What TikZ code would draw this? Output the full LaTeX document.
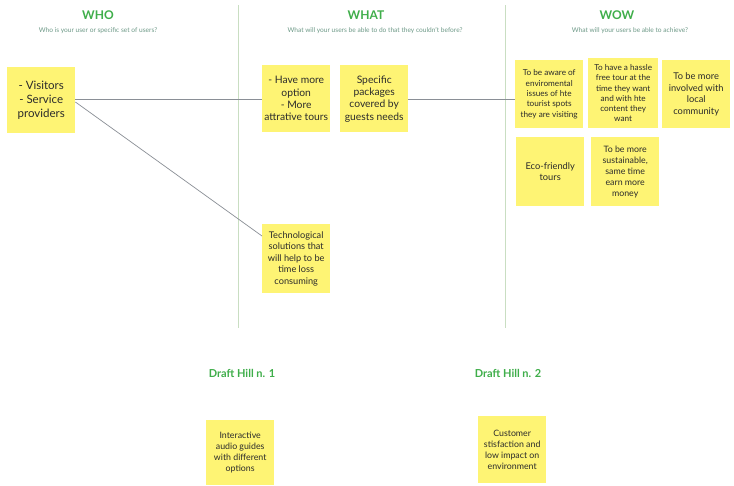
\documentclass[tikz,border=0pt]{standalone}
\usepackage{fontspec}
\setmainfont{Lato}
\definecolor{sticky}{HTML}{FEF474}
\definecolor{ttl}{HTML}{3FAE4A}
\definecolor{sub}{HTML}{6E9A88}
\definecolor{divider}{HTML}{C9DEC2}
\definecolor{conn}{HTML}{8A8F96}
\definecolor{ink}{HTML}{2B2B2B}
\tikzset{
  note/.style={fill=sticky, inner sep=0pt, minimum width=68pt, minimum height=67pt, anchor=north west},
  notetext/.style={text=ink, align=center, inner sep=0pt},
  head/.style={text=ttl, font=\bfseries\fontsize{12}{14}\selectfont},
  subhead/.style={text=sub, font=\fontsize{6.6}{8}\selectfont},
  divline/.style={draw=divider, line width=1pt},
  link/.style={draw=conn, line width=0.7pt}
}
\begin{document}
\begin{tikzpicture}[x=1pt,y=-1pt]
\path[use as bounding box, fill=white] (0,0) rectangle (734,485);
% dividers
\coordinate (d1t) at (238,5); \coordinate (d1b) at (238,328);
\coordinate (d2t) at (505,5); \coordinate (d2b) at (505,328);
\draw[divline] (d1t) -- (d1b);
\draw[divline] (d2t) -- (d2b);
% headers
\node[head] (who) at (98,15) {WHO};
\node[subhead] (whos) at (98,31) {Who is your user or specific set of users?};
\node[head] (what) at (366,15) {WHAT};
\node[subhead] (whats) at (375,31) {What will your users be able to do that they couldn't before?};
\node[head] (wow) at (617,15) {WOW};
\node[subhead] (wows) at (630,31) {What will your users be able to achieve?};
% notes
\node[note, minimum height=66pt] (vis) at (7,67) {};
\node[notetext, font=\fontsize{11.5}{14}\selectfont] at (vis.center) {- Visitors\\- Service\\providers};
\node[note] (have) at (262,65) {};
\node[notetext, font=\fontsize{10.3}{12.3}\selectfont] at (have.center) {- Have more\\option\\- More\\attrative tours};
\node[note] (spec) at (340,65) {};
\node[notetext, font=\fontsize{10.3}{12.3}\selectfont] at (spec.center) {Specific\\packages\\covered by\\guests needs};
\node[note, minimum height=69pt] (tech) at (262,224) {};
\node[notetext, font=\fontsize{9.2}{11.5}\selectfont] at (tech.center) {Technological\\solutions that\\will help to be\\time loss\\consuming};
\node[note, minimum height=68pt] (aware) at (515,60) {};
\node[notetext, font=\fontsize{8.2}{10.3}\selectfont] at (aware.center) {To be aware of\\enviromental\\issues of hte\\tourist spots\\they are visiting};
\node[note, minimum width=70pt, minimum height=70pt] (hassle) at (588,58) {};
\node[notetext, font=\fontsize{8.2}{10.3}\selectfont] at (hassle.center) {To have a hassle\\free tour at the\\time they want\\and with hte\\content they\\want};
\node[note, minimum height=68pt] (local) at (662,60) {};
\node[notetext, font=\fontsize{9.3}{11.5}\selectfont] at (local.center) {To be more\\involved with\\local\\community};
\node[note, minimum height=69pt] (eco) at (516,137) {};
\node[notetext, font=\fontsize{9.3}{11.5}\selectfont] at (eco.center) {Eco-friendly\\tours};
\node[note, minimum height=69pt] (sust) at (591,137) {};
\node[notetext, font=\fontsize{8.8}{11}\selectfont] at (sust.center) {To be more\\sustainable,\\same time\\earn more\\money};
% draft hills
\node[head, font=\bfseries\fontsize{11}{13}\selectfont] (dh1) at (242,373) {Draft Hill n. 1};
\node[head, font=\bfseries\fontsize{11}{13}\selectfont] (dh2) at (508,373) {Draft Hill n. 2};
\node[note, minimum height=65pt] (inter) at (206,420) {};
\node[notetext, font=\fontsize{8.8}{11}\selectfont] at (inter.center) {Interactive\\audio guides\\with different\\options};
\node[note] (cust) at (478,416) {};
\node[notetext, font=\fontsize{8.8}{11}\selectfont] at (cust.center) {Customer\\stisfaction and\\low impact on\\environment};
% connectors
\draw[link] (vis.east |- 0,99) -- (have.west |- 0,99);
\draw[link] (vis.east |- 0,102) -- (tech.west |- 0,236);
\draw[link] (spec.east |- 0,99) -- (aware.west |- 0,99);
\end{tikzpicture}
\end{document}
